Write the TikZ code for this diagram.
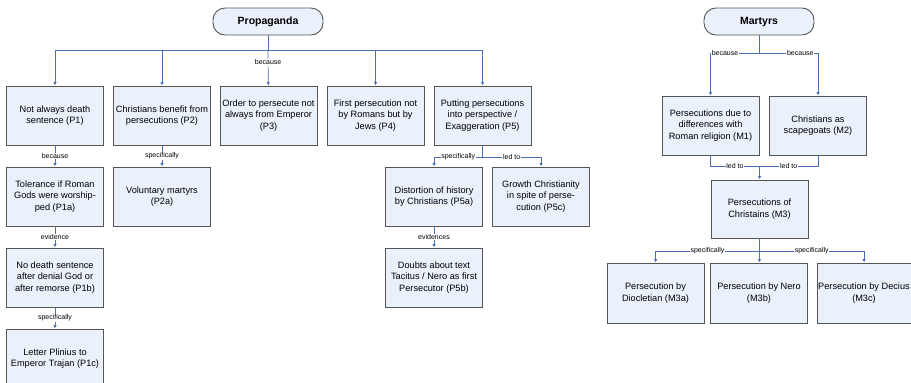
\documentclass[tikz,border=0pt]{standalone}
\usepackage{fontspec}
\setmainfont{Liberation Sans}
\usetikzlibrary{arrows.meta}

\definecolor{fondbloc}{RGB}{234,241,251}
\definecolor{bordbloc}{RGB}{85,85,85}
\definecolor{trait}{RGB}{74,111,181}

\tikzset{
  bloc/.style={draw=bordbloc, fill=fondbloc, line width=0.9pt,
    minimum width=97pt, minimum height=59pt, align=center,
    font=\fontsize{9.2}{11.5}\selectfont, inner sep=1pt},
  titre/.style={draw=bordbloc, fill=fondbloc, line width=0.9pt,
    rounded corners=12pt, minimum width=110pt, minimum height=27pt,
    font=\fontsize{10.5}{12}\selectfont\bfseries},
  lien/.style={draw=trait, line width=0.7pt},
  fleche/.style={lien, -{Latex[length=3.5pt,width=3.5pt]}},
  etiq/.style={fill=white, inner sep=0.8pt, font=\fontsize{7}{8}\selectfont}
}

\begin{document}
\begin{tikzpicture}[x=1pt, y=-1pt]
    % cadre de la page
    \useasboundingbox (0,0) rectangle (911,383);

    % Propaganda : racine et premier niveau
    \node[titre] (prop) at (268,21.5) {Propaganda};
    \node[bloc] (P1) at (55,115.5) {Not always death\\sentence (P1)};
    \node[bloc] (P2) at (162,115.5) {Christians benefit from\\persecutions (P2)};
    \node[bloc] (P3) at (268.5,115.5) {Order to persecute not\\always from Emperor\\(P3)};
    \node[bloc] (P4) at (375.5,115.5) {First persecution not\\by Romans but by\\Jews (P4)};
    \node[bloc] (P5) at (482.5,115.5) {Putting persecutions\\into perspective /\\Exaggeration (P5)};

    % branche P1
    \node[bloc] (P1a) at (55,196.5) {Tolerance if Roman\\Gods were worship-\\ped (P1a)};
    \node[bloc] (P1b) at (55,277.5) {No death sentence\\after denial God or\\after remorse (P1b)};
    \node[bloc] (P1c) at (55,358.5) {Letter Plinius to\\Emperor Trajan (P1c)};

    % branche P2
    \node[bloc] (P2a) at (162,196.5) {Voluntary martyrs\\(P2a)};

    % branche P5
    \node[bloc] (P5a) at (434,196.5) {Distortion of history\\by Christians (P5a)};
    \node[bloc] (P5b) at (434,277.5) {Doubts about text\\Tacitus / Nero as first\\Persecutor (P5b)};
    \node[bloc] (P5c) at (541,196.5) {Growth Christianity\\in spite of perse-\\cution (P5c)};

    % liens de Propaganda
    \coordinate (busP) at (268,50);
    \draw[lien] (prop) -- (busP);
    \draw[fleche] (busP) -| (P1);
    \draw[fleche] (busP) -| (P2);
    \draw[fleche] (busP) -- node[etiq, pos=.35] {because} (P3);
    \draw[fleche] (busP) -| (P4);
    \draw[fleche] (busP) -| (P5);

    \draw[fleche] (P1) -- node[etiq] {because} (P1a);
    \draw[fleche] (P1a) -- node[etiq] {evidence} (P1b);
    \draw[fleche] (P1b) -- node[etiq] {specifically} (P1c);
    \draw[fleche] (P2) -- node[etiq] {specifically} (P2a);

    \coordinate (busP5) at (482.5,157);
    \draw[lien] (P5) -- (busP5);
    \draw[fleche] (busP5) -| node[etiq, pos=.25] {specifically} (P5a);
    \draw[fleche] (busP5) -| node[etiq, pos=.25] {led to} (P5c);
    \draw[fleche] (P5a) -- node[etiq] {evidences} (P5b);

    % Martyrs
    \node[titre] (mart) at (759,21.5) {Martyrs};
    \node[bloc] (M1) at (710.5,125.5) {Persecutions due to\\differences with\\Roman religion (M1)};
    \node[bloc] (M2) at (818,125.5) {Christians as\\scapegoats (M2)};
    \node[bloc, minimum height=58pt] (M3) at (759.5,209) {Persecutions of\\Christains (M3)};
    \node[bloc, minimum height=60pt] (M3a) at (655.5,293) {Persecution by\\Diocletian (M3a)};
    \node[bloc, minimum height=60pt] (M3b) at (759,293) {Persecution by Nero\\(M3b)};
    \node[bloc, minimum height=60pt, minimum width=94pt] (M3c) at (864,293) {Persecution by Decius\\(M3c)};

    % liens de Martyrs
    \coordinate (busM) at (759,53);
    \draw[lien] (mart) -- (busM);
    \draw[fleche] (busM) -| node[etiq, pos=.35] {because} (M1);
    \draw[fleche] (busM) -| node[etiq, pos=.35] {because} (M2);

    \coordinate (joinM) at (759.5,166);
    \draw[lien] (M1) |- node[etiq, pos=.75] {led to} (joinM);
    \draw[lien] (M2) |- node[etiq, pos=.75] {led to} (joinM);
    \draw[fleche] (joinM) -- (M3);

    \coordinate (busM3) at (759.5,251);
    \draw[lien] (M3) -- (busM3);
    \draw[fleche] (busM3) -| node[etiq, pos=.25] {specifically} (M3a);
    \draw[fleche] (busM3) -- (M3b);
    \draw[fleche] (busM3) -| node[etiq, pos=.25] {specifically} (M3c);
\end{tikzpicture}
\end{document}
